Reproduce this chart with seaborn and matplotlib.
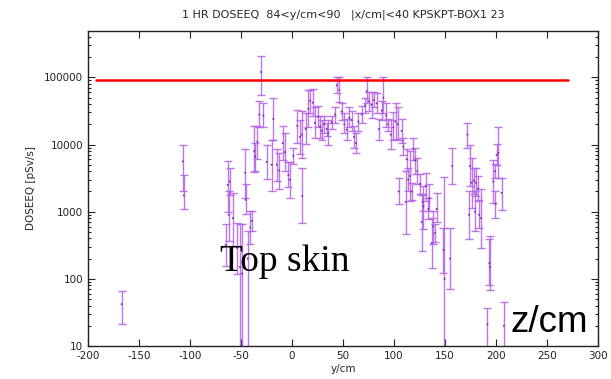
import numpy as np
import pandas as pd
import matplotlib
matplotlib.use("Agg")
import matplotlib.pyplot as plt
import seaborn as sns

# ---- data ----
y_cm = [-167, -107, -106,
        -65, -63, -62, -61, -58, -54, -51, -49, -46, -45.4, -43.4, -41, -39.5,
        -37, -36.3, -34, -32, -30.4, -28.1, -24.8, -20, -18.3, -15, -12.5, -9.1,
        -6.9, -3.6, -2, 1.3, 5.2, 7.8, 9.5, 10.1, 13.4, 16, 17.6, 20.3, 22.5,
        25.8, 27.5, 29.1, 31.4, 34, 35.6, 38.9, 42.2, 43.8, 46.4, 48.7, 51.3,
        53.6, 56.2, 58.5, 60.8, 62.7, 65, 68.3, 71.6, 73.2, 75.5, 78.1, 80.4,
        83, 85.3, 87.9, 89.5, 92.2, 94.4, 96.8, 99.3, 101.6, 103.6, 104.5,
        107.5, 109.1, 111.5, 112.4, 114, 115.7, 117.2, 119, 120.6, 122.9, 125.5,
        127, 128.1, 128.8, 131, 133.7, 134.6, 137, 138.5, 140.2, 141.8, 148.5,
        149.5, 155, 157, 171.9, 173.5, 174.5, 176.2, 178.4, 179.4, 180.4, 182.4,
        183.4, 185.3, 191.5, 193.5, 194.1, 197.4, 199, 199.5, 200.6, 202.3,
        205.5, 207.8]
dose = [42, 5600, 1750,
        320, 2500, 900, 2800, 800, 290, 150, 120, 3800, 1500, 200, 580, 730,
        8000, 6600, 11000, 28000, 120000, 27000, 5500, 5000, 24000, 5000, 4100, 10500,
        7700, 3500, 3000, 6800, 19000, 13000, 14000, 1700, 17000, 34000, 45000, 42000, 21000,
        26000, 18500, 16000, 20000, 17000, 15000, 21500, 28000, 76000, 65000, 31000, 20000,
        16500, 25000, 23000, 13000, 10500, 22000, 28000, 38000, 62000, 44000, 39000, 46000,
        41000, 17000, 32000, 50000, 27000, 20000, 14000, 18000, 22000, 20000, 2000,
        16000, 9300, 1400, 6000, 3000, 3400, 2000, 8600, 5800, 4000, 2600,
        700, 1400, 1200, 2400, 1100, 1600, 340, 600, 480, 1100, 270,
        100, 200, 4800, 14000, 900, 4800, 2700, 2900, 1000, 2700, 2200,
        900, 800, 21, 170, 150, 2800, 4000, 1300, 7000, 7500,
        1900, 20]
dose_lo = [21, 2000, 1100,
           156, 1000, 370, 1800, 310, 119, 1, 1, 1600, 930, 1, 330, 520,
           3900, 4100, 6000, 18000, 54000, 18000, 3100, 2060, 11500, 2900, 2200, 5800,
           4100, 2300, 1600, 5200, 10700, 7300, 6400, 690, 10300, 18000, 29000, 27000, 12700,
           18000, 12700, 11500, 14600, 13600, 9700, 17000, 21000, 58000, 43000, 23000, 14600,
           11500, 18000, 16000, 9000, 7600, 16000, 20600, 29000, 41000, 32000, 25000, 36000,
           29000, 11500, 23000, 29000, 18000, 16000, 8700, 11500, 12000, 11500, 1300,
           10700, 6900, 470, 4100, 2060, 1460, 1500, 5800, 3700, 2600, 1860,
           260, 1030, 560, 1460, 790, 1030, 146, 330, 350, 700, 123,
           1, 71, 2600, 9000, 395, 2400, 1150, 1860, 520, 1700, 1460,
           580, 290, 1, 80, 69, 1360, 3200, 810, 5000, 3200,
           1070, 1]
dose_hi = [66, 9800, 3500,
           660, 5600, 2000, 4400, 1900, 690, 660, 660, 8700, 2600, 520, 1030, 1030,
           19000, 10700, 19000, 45000, 206000, 41000, 9700, 11500, 50000, 8700, 7600, 19000,
           14600, 5400, 5400, 9000, 33000, 23000, 32000, 4500, 29000, 64000, 64000, 66000, 36000,
           38000, 27000, 23000, 27000, 21000, 23000, 27000, 36000, 100000, 100000, 42000, 29000,
           24000, 36000, 32000, 19000, 15000, 29000, 38000, 50000, 100000, 60000, 60000, 60000,
           58000, 24000, 45000, 100000, 41000, 24000, 23000, 30000, 41000, 36000, 3200,
           24000, 12700, 4100, 8700, 4400, 8100, 2700, 12700, 9000, 6200, 3700,
           1800, 1860, 2400, 3800, 1600, 2600, 810, 1030, 660, 1900, 580,
           3300, 580, 9000, 21000, 2000, 9700, 6200, 4500, 2000, 4400, 3400,
           1500, 2200, 37, 390, 440, 5800, 5200, 2000, 10300, 18000,
           3200, 45]

limit_dose = 92000
limit_range = [-192, 271]

title = "1 HR DOSEEQ  84<y/cm<90   |x/cm|<40 KPSKPT-BOX1 23"
x_ticks = [-200, -150, -100, -50, 0, 50, 100, 150, 200, 250, 300]
y_ticks = [10, 100, 1000, 10000, 100000]
y_tick_labels = ["10", "100", "1000", "10000", "100000"]

df = pd.DataFrame({"y": y_cm, "dose": dose, "lo": dose_lo, "hi": dose_hi})

# ---- plot ----
sns.set_style("ticks")
plt.rcParams["font.family"] = ["DejaVu Sans"]

W, H = 611, 379
fig = plt.figure(figsize=(W / 100, H / 100), dpi=100)
ax = fig.add_axes([88 / W, 1 - 346 / H, (598 - 88) / W, (346 - 31) / H])

bar_color = "#b666e6"
yerr = np.vstack([df["dose"] - df["lo"], df["hi"] - df["dose"]])
ax.errorbar(df["y"], df["dose"], yerr=yerr, fmt="none", ecolor=bar_color,
            elinewidth=1.0, capsize=2.6, capthick=1.0, alpha=0.9, zorder=2)
sns.scatterplot(data=df, x="y", y="dose", ax=ax, s=2, color="#7a2fb0",
                edgecolor="none", zorder=3, legend=False)

ax.plot(limit_range, [limit_dose, limit_dose], color="#ff0000", lw=1.8, zorder=4)

ax.set_yscale("log")
ax.set_xlim(-200, 300)
ax.set_ylim(10, 4.9e5)
ax.set_xticks(x_ticks)
ax.set_xticklabels([str(v) for v in x_ticks])
ax.set_yticks(y_ticks)
ax.set_yticklabels(y_tick_labels)

ax.tick_params(axis="both", which="both", direction="in", top=True, right=True,
               labelsize=7.5, colors="#222222", width=0.8)
ax.tick_params(axis="both", which="major", length=5)
ax.tick_params(axis="both", which="minor", length=2.5)
ax.set_xticks(np.arange(-200, 301, 50), minor=False)
for sp in ax.spines.values():
    sp.set_visible(True)
    sp.set_color("#222222")
    sp.set_linewidth(1.0)

ax.set_xlabel("y/cm", fontsize=7.5, labelpad=2)
ax.set_ylabel("DOSEEQ [pSv/s]", fontsize=7.5, labelpad=6)
ax.set_title(title, fontsize=8, pad=10)

fig.text(220 / W, 1 - 270.7 / H, "Top skin", family=["Liberation Serif", "DejaVu Serif"],
         fontsize=27, ha="left", va="baseline", color="black")
fig.text(510 / W, 1 - 331.7 / H, "z/cm", family=["Liberation Sans", "DejaVu Sans"],
         fontsize=26.5, ha="left", va="baseline", color="black")

fig.savefig("out.png", dpi=100)
